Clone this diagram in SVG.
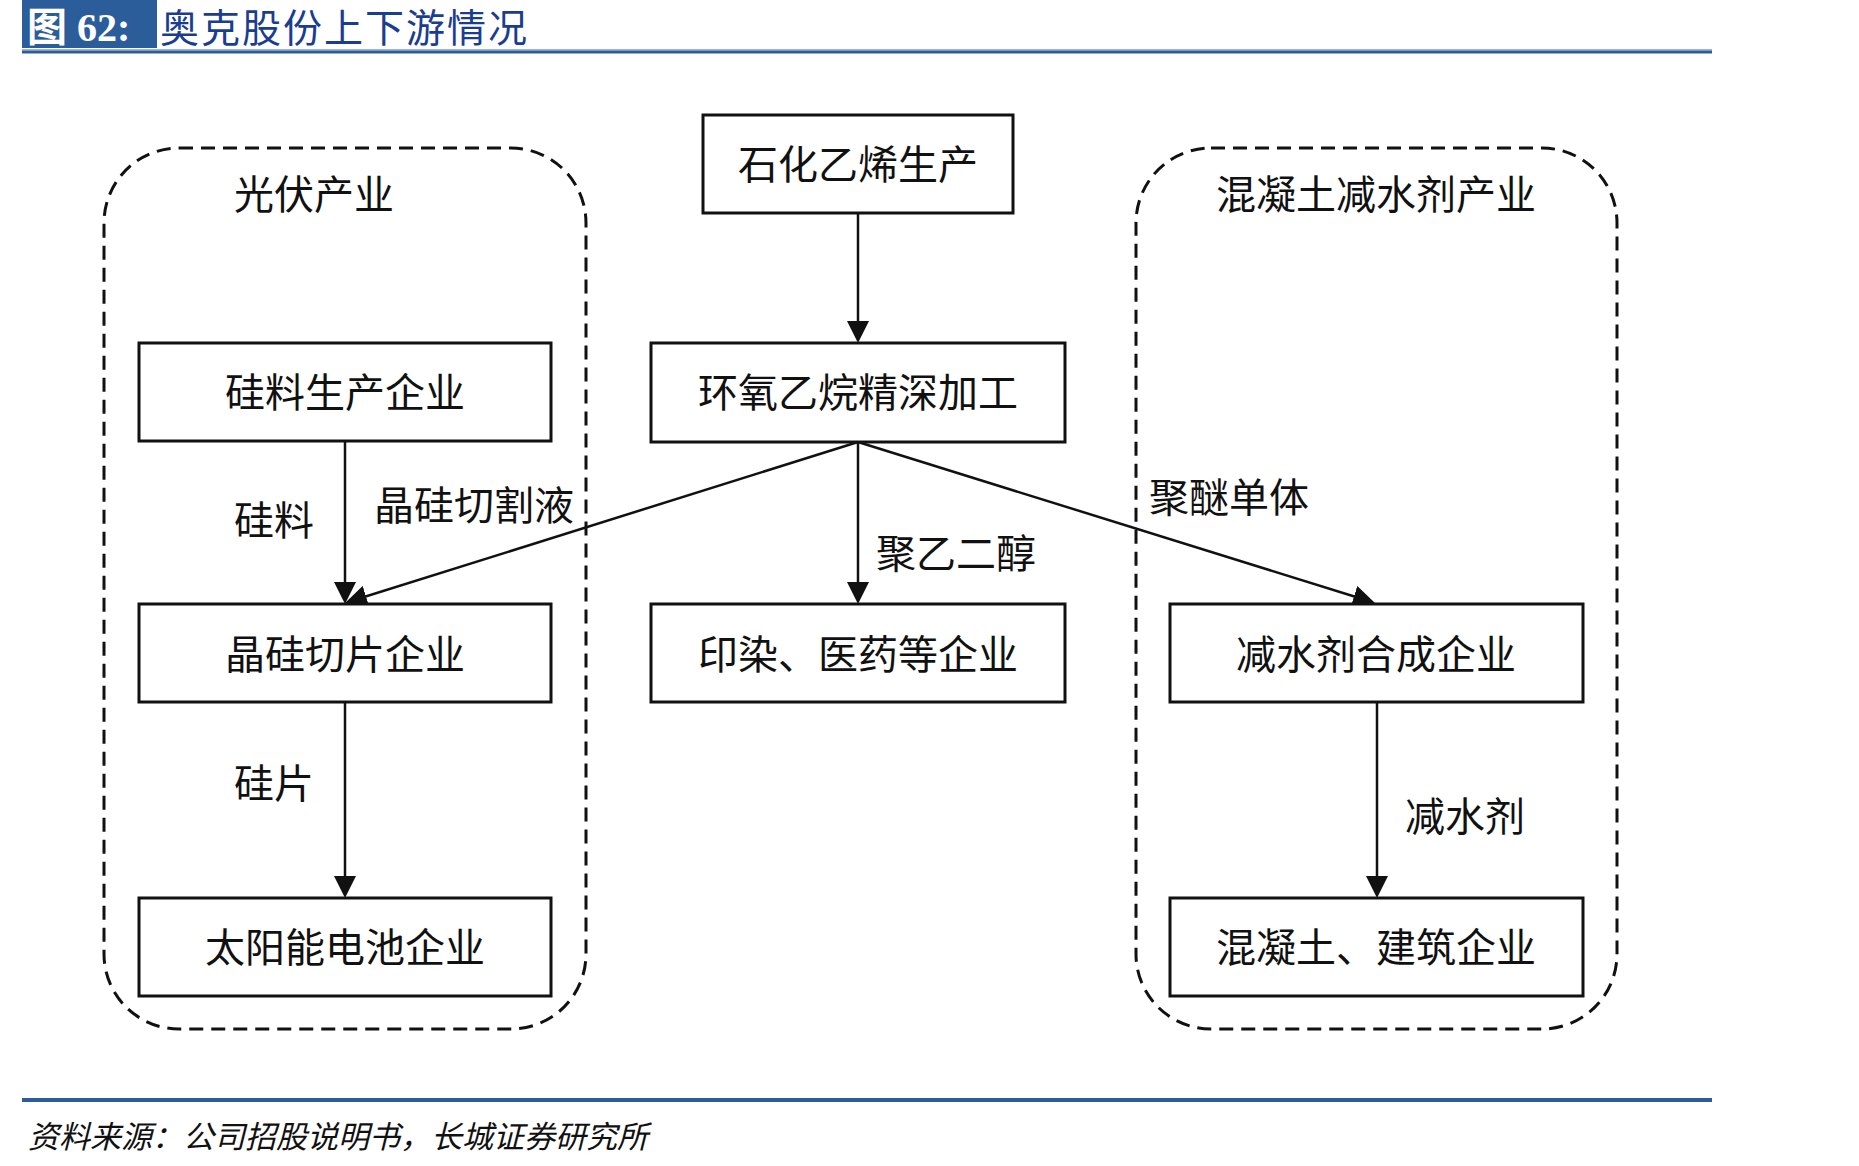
<svg xmlns="http://www.w3.org/2000/svg" width="1859" height="1166" viewBox="0 0 1859 1166">
<style>
.t{font-family:"Noto Sans CJK SC","Noto Sans CJK TC",sans-serif;font-size:40px;fill:#111;text-anchor:middle}
.box{fill:#fff;stroke:#111;stroke-width:3}
.grp{fill:none;stroke:#111;stroke-width:3;stroke-dasharray:14 8}
.ln{fill:none;stroke:#111;stroke-width:2.5}
</style>
<defs>
<marker id="ah" viewBox="0 0 22 22" refX="13" refY="11" markerWidth="22" markerHeight="22" markerUnits="userSpaceOnUse" orient="auto">
<path d="M0,0 L22,11 L0,22 z" fill="#111"/>
</marker>
</defs>
<rect width="1859" height="1166" fill="#fff"/>
<g id="header">
<rect x="22" y="0" width="135" height="48" fill="#2C5D9B"/>
<text x="27" y="41" font-family="Liberation Serif,'Noto Sans CJK SC',serif" font-weight="bold" font-size="40" fill="#fff">图 62:</text>
<text x="160" y="42" font-family="'Noto Sans CJK SC',sans-serif" font-size="39" fill="#1B3D8F" letter-spacing="2">奥克股份上下游情况</text>
<rect x="22" y="49" width="1690" height="1.5" fill="#9DB6DA"/>
<rect x="22" y="50.5" width="1690" height="3" fill="#2E5C99"/>
</g>
<g id="group-pv">
<rect class="grp" x="104" y="148" width="482" height="881" rx="75" ry="75"/>
<text class="t" x="314" y="209">光伏产业</text>
</g>
<g id="group-concrete">
<rect class="grp" x="1136" y="148" width="481" height="881" rx="75" ry="75"/>
<text class="t" x="1376" y="209">混凝土减水剂产业</text>
</g>
<g id="connectors">
<line class="ln" x1="858" y1="213" x2="858" y2="334" marker-end="url(#ah)"/>
<line class="ln" x1="345" y1="441" x2="345" y2="595" marker-end="url(#ah)"/>
<line class="ln" x1="858" y1="442" x2="353.6" y2="600.3" marker-end="url(#ah)"/>
<line class="ln" x1="858" y1="442" x2="858" y2="595" marker-end="url(#ah)"/>
<line class="ln" x1="858" y1="442" x2="1366.4" y2="600.3" marker-end="url(#ah)"/>
<line class="ln" x1="345" y1="702" x2="345" y2="889" marker-end="url(#ah)"/>
<line class="ln" x1="1377" y1="702" x2="1377" y2="889" marker-end="url(#ah)"/>
<text class="t" x="274" y="535">硅料</text>
<text class="t" x="474" y="520">晶硅切割液</text>
<text class="t" x="956" y="568">聚乙二醇</text>
<text class="t" x="1229" y="512">聚醚单体</text>
<text class="t" x="274" y="798">硅片</text>
<text class="t" x="1465" y="831">减水剂</text>
</g>
<g id="n-ethylene">
<rect class="box" x="703" y="115" width="310" height="98"/>
<text class="t" x="858" y="179">石化乙烯生产</text>
</g>
<g id="n-eo">
<rect class="box" x="651" y="343" width="414" height="99"/>
<text class="t" x="858" y="407">环氧乙烷精深加工</text>
</g>
<g id="n-silicon">
<rect class="box" x="139" y="343" width="412" height="98"/>
<text class="t" x="345" y="407">硅料生产企业</text>
</g>
<g id="n-wafer">
<rect class="box" x="139" y="604" width="412" height="98"/>
<text class="t" x="345" y="669">晶硅切片企业</text>
</g>
<g id="n-solar">
<rect class="box" x="139" y="898" width="412" height="98"/>
<text class="t" x="345" y="962">太阳能电池企业</text>
</g>
<g id="n-dyeing">
<rect class="box" x="651" y="604" width="414" height="98"/>
<text class="t" x="858" y="669">印染、医药等企业</text>
</g>
<g id="n-reducer">
<rect class="box" x="1170" y="604" width="413" height="98"/>
<text class="t" x="1376" y="669">减水剂合成企业</text>
</g>
<g id="n-concrete">
<rect class="box" x="1170" y="898" width="413" height="98"/>
<text class="t" x="1376" y="962">混凝土、建筑企业</text>
</g>
<g id="footer">
<rect x="22" y="1098" width="1690" height="4" fill="#2E5C99"/>
<text x="28" y="1148" font-family="'Noto Sans CJK SC',sans-serif" font-size="31" font-style="italic" fill="#111">资料来源：公司招股说明书，长城证券研究所</text>
</g>
</svg>
